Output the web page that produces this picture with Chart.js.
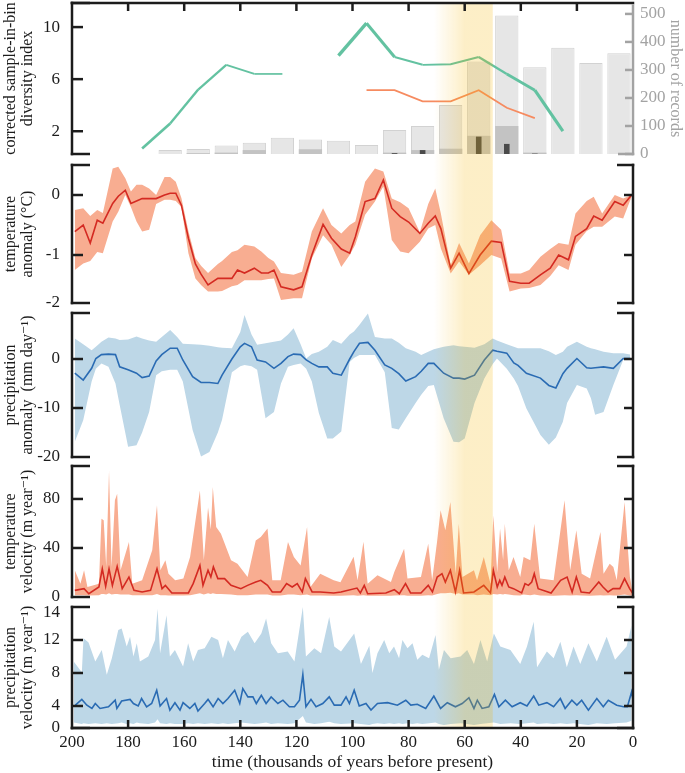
<!DOCTYPE html>
<html>
<head>
<meta charset="utf-8">
<script src="https://cdn.jsdelivr.net/npm/chart.js@4.4.1/dist/chart.umd.min.js"></script>
<style>
  html, body { margin: 0; padding: 0; background: #fff; }
  #wrap { position: relative; width: 685px; height: 773px; }
  canvas { position: absolute; left: 0; }
</style>
</head>
<body>
<div id="wrap">
  <canvas id="records" width="685" height="160" style="top:0px"></canvas>
  <canvas id="tempAnom" width="685" height="148" style="top:160px"></canvas>
  <canvas id="precAnom" width="685" height="154" style="top:308px"></canvas>
  <canvas id="tempVel" width="685" height="140" style="top:462px"></canvas>
  <canvas id="precVel" width="685" height="171" style="top:602px"></canvas>
</div>
<script>
// ---- data (time in thousands of years before present) ----
// top panel: 10 kyr bins
const binTimes = [165, 155, 145, 135, 125, 115, 105, 95, 85, 75, 65, 55, 45, 35, 25, 15, 5];
const recordsAll = [14, 18, 30, 40, 58, 52, 47, 32, 86, 100, 175, 330, 494, 310, 379, 325, 360];
const recordsMid = [0, 3, 5, 14, 0, 17, 0, 0, 5, 14, 19, 65, 100, 5, 0, 0, 0];
const recordsDark = [0, 0, 0, 0, 0, 0, 0, 0, 3, 14, 0, 62, 36, 1.5, 0, 0, 0];
const divTimes = [175, 165, 155, 145, 135, 125, 115, 105, 95, 85, 75, 65, 55, 45, 35, 25];
const divGreen = [0.67, 2.6, 5.2, 7.1, 6.4, 6.4, null, 7.8, 10.3, 7.7, 7.1, 7.15, 7.7, 6.4, 5.15, 2.0];
const divOrangeTimes = [95, 85, 75, 65, 55, 45, 35];
const divOrange = [5.15, 5.15, 4.3, 4.3, 5.15, 3.8, 3.0];

// temperature anomaly (deg C)
const tempTime = [199,196,193.5,191,189,185.5,183.5,181,179,177,175,172.5,170,167,165,163,161,158.5,156,154,151.5,148,146.5,143,141,138.5,135,132.5,130,128,125.5,121,118,114.5,110.5,107.5,104,101,99,95.5,92,89,86,83,80,76,73,70.5,68.5,65,62,58.5,54.5,50.5,47,44,40,37,33,29.5,26.5,23,20.5,16.5,14,11,6.5,3.5,0.5];
const tempMean = [-0.61,-0.5,-0.8,-0.42,-0.47,-0.14,-0.02,0.08,-0.14,-0.1,-0.06,-0.06,-0.06,0.0,0.03,0.03,-0.17,-0.72,-1.15,-1.32,-1.5,-1.39,-1.39,-1.39,-1.25,-1.3,-1.22,-1.3,-1.3,-1.25,-1.53,-1.58,-1.53,-1.0,-0.49,-0.72,-0.9,-0.97,-0.7,-0.11,-0.06,0.25,-0.22,-0.36,-0.45,-0.64,-0.47,-0.35,-0.56,-1.22,-0.97,-1.31,-1.0,-0.77,-0.79,-1.44,-1.47,-1.47,-1.33,-1.22,-1.0,-1.08,-0.69,-0.56,-0.35,-0.42,-0.11,-0.17,0.0];
const tempHi = [-0.25,-0.22,-0.35,-0.25,-0.3,0.44,0.47,0.28,0.06,0.17,0.17,0.11,0.0,0.3,0.3,0.22,-0.05,-0.6,-1.05,-1.18,-1.3,-1.15,-1.1,-0.95,-0.92,-0.83,-0.86,-0.94,-1.05,-1.11,-1.3,-1.33,-1.28,-0.61,-0.22,-0.5,-0.64,-0.5,-0.44,0.22,0.44,0.39,-0.06,-0.12,-0.22,-0.62,-0.15,0.11,-0.31,-1.17,-0.8,-1.14,-0.67,-0.42,-0.58,-1.31,-1.31,-1.25,-1.03,-0.9,-0.8,-0.83,-0.31,-0.1,-0.03,-0.31,0.0,-0.06,0.0];
const tempLo = [-1.25,-1.14,-1.1,-0.95,-0.97,-0.44,-0.28,0.0,-0.2,-0.44,-0.61,-0.58,-0.15,-0.08,-0.08,-0.1,-0.2,-0.97,-1.39,-1.5,-1.61,-1.61,-1.6,-1.52,-1.5,-1.42,-1.42,-1.42,-1.4,-1.39,-1.75,-1.72,-1.72,-1.06,-0.67,-0.83,-1.2,-1.0,-0.83,-0.33,-0.11,0.14,-0.75,-0.94,-0.97,-0.78,-0.56,-0.5,-0.89,-1.31,-1.11,-1.33,-1.17,-1.0,-1.06,-1.61,-1.56,-1.55,-1.5,-1.35,-1.17,-1.25,-0.83,-0.6,-0.53,-0.53,-0.36,-0.39,-0.03];

// precipitation anomaly (mm/day)
const precTime = [199,196,193,191.5,189.5,187,184.5,183,180,177,175,172.5,170,168,165,162.5,160.5,157,154,151,148,146.5,143,140,138.5,136,134,131,128,125.5,123,121,118.5,116.5,114.5,112,109,107,104,101,99.5,97.5,94.5,92,88.5,86,83.5,81,77.5,75.5,73,71,67.5,64,62,60,56.5,53,50,48.5,45,42.5,41,38,33,30,27.5,25,23.5,20,16.5,15,13.5,10.5,7,3.5,1];
const precMean = [-2.9,-4.3,-1.9,0.1,0.9,1.0,0.9,-1.6,-2.2,-2.9,-3.8,-3.5,-0.4,0.9,2.2,2.2,-0.2,-3.6,-4.8,-4.8,-5.0,-3.3,0.0,2.5,3.2,2.5,-0.2,-0.6,-1.9,-0.9,0.5,1.0,0.9,-0.2,-0.9,-1.6,-1.6,-2.9,-3.3,0.0,1.5,3.2,3.4,1.8,-1.2,-1.9,-3.0,-4.5,-3.6,-2.5,-0.9,-0.9,-2.9,-3.9,-3.9,-4.1,-3.3,-0.2,1.8,1.6,1.2,-0.8,-1.3,-2.9,-3.9,-5.4,-5.9,-3.0,-1.9,0.1,-1.8,-1.9,-1.8,-1.6,-1.9,0.1,0.1];
const precHi = [4.2,3.0,1.8,2.5,3.5,4.4,4.2,3.9,4.0,4.6,4.2,3.8,3.5,4.5,5.9,4.5,3.1,3.0,2.9,2.7,2.4,2.3,2.2,5.5,9.0,5.0,2.9,3.2,3.5,3.8,5.0,6.3,3.0,0.1,1.0,1.5,2.5,3.9,3.1,5.0,5.6,7.0,9.3,4.5,4.2,4.2,3.3,2.2,1.5,0.8,1.5,2.0,2.5,2.8,2.6,2.5,2.3,3.0,4.2,3.8,3.0,2.5,2.2,2.2,2.2,1.6,0.8,1.5,2.5,3.5,2.5,2.2,2.0,1.5,1.2,1.2,0.9];
const precLo = [-16.9,-12.5,-4.6,-2.0,-0.9,-1.6,-5.0,-9.4,-17.9,-17.6,-15.0,-10.8,-3.3,-2.5,-2.2,-2.2,-4.6,-14.5,-19.9,-19.0,-15.0,-12.4,-2.7,-1.5,-1.2,-1.5,-2.2,-12.1,-10.8,-5.0,-1.6,-1.2,-0.9,-2.0,-4.6,-11.0,-16.2,-16.2,-14.8,-0.6,0.2,0.8,0.8,0.8,-2.7,-14.1,-14.4,-12.1,-9.0,-7.3,-5.5,-5.3,-12.1,-16.9,-17.0,-16.2,-9.0,-4.0,-1.0,0.1,-2.0,-4.0,-5.5,-10.1,-15.5,-17.5,-16.0,-12.8,-9.0,-5.3,-6.0,-8.0,-11.4,-10.8,-5.3,-0.2,0.1];

// temperature velocity (m/year)
const tvBandTime = [199,197,195.7,194.5,190.4,189.5,188.7,187.8,186.8,185.9,184.7,183.9,182.7,179.7,178.5,175,171.4,169.7,168.5,166.7,165.6,163.2,160.3,157.9,154.4,153,151.5,150.5,149.8,148.6,146.9,143.3,141,137.4,134.5,132.7,130.3,128.6,125.6,123,120.9,118.5,116.2,115,111.5,106.7,104.3,99.6,98.2,96.1,94.6,91.1,86.3,85.1,81.6,80.4,75.6,73,71.6,69.8,68.6,66.9,65.1,63.2,62.1,60.8,56.7,55.6,53.2,50.8,49.8,48.4,47.4,46.3,45.7,44.3,42.6,40.2,39,36.6,35.2,33.1,28.3,24.4,22.4,20.2,18.3,15.3,11.6,10.5,8.3,7,5.8,3,1.1,0];
const tvHi = [21.8,10.9,21.8,8.2,10.9,63.9,62.6,24.5,103,24.5,78.9,84.3,21.8,44.9,10.9,13.6,38.1,74.8,21.8,29.9,19,13.6,15,32.6,87,30,73,55,89.8,57.1,51.7,29.9,27.2,16.3,46.2,49,55.8,13.6,13.6,44.9,32.6,25.8,57.1,8.2,19,13.6,12,32.9,13.6,45,10.9,17.7,12.2,20.4,39.4,15,16.3,43.5,13.6,46.2,70.7,54.4,77.5,19,59.8,16.3,21.8,13.6,32.6,10.9,66.6,20,55.8,29.9,59.8,21.8,32.6,16.3,32.6,29.9,59.8,15,13.6,79,21.8,54.4,19,15,53.1,19,27.2,24.5,13.6,77.5,16.3,2];
const tvLo = [1.5,1.5,1.5,1.2,1.5,2.5,2.5,2,3,2,2.5,2.5,2,2,1.5,1.5,1.5,2.5,1.5,1.5,1.2,1.2,1.2,1.5,3,2,3,2.5,3,2.5,2.5,2,1.5,1.5,2,2,2,1.2,1.2,2,2,1.5,2,1.2,1.2,1,1,1.5,1,1.5,1,1,1,1.2,1.5,1,1,1.5,1.2,2.5,3,3,3.5,2.5,3,2,2,1.5,2,1.5,2.5,2,2.5,2,2.5,2,1.5,1.2,2,1.5,2,1.2,1,1.5,1.2,1.5,1.2,1,1.5,1.2,1.5,1.2,1.2,2,1.2,1];
const tvMeanTime = [199,195.7,194,190.4,189.2,188,186.8,185.6,183.9,182.1,179.7,177.9,175,172,169.7,167.9,166.7,164.4,158.5,156.8,154.4,153.3,151.5,150.5,149.6,148,145.6,143.3,139.8,137.4,134.5,132.7,130.3,128.6,125.6,123.5,121.5,119.7,117.9,116.8,114.4,111.5,106.7,104.1,98.4,97.2,95.8,94.6,88.1,85.1,83.3,81.1,79.3,75.6,73,71.5,69.8,68.1,66.9,65.1,63.3,61.8,60.4,56.7,53.2,50.8,49.8,48.4,47.5,46.7,45.7,44.3,42.6,39.7,38.5,37.3,36.1,35.2,33.8,29.2,25.8,23.5,21.7,20.2,18.5,15.5,12.2,10.7,8.9,7.1,4.7,3,1.2,0];
const tvMean = [5.4,6.8,2.7,8.2,23,8.7,23,9.5,25,6.8,16.3,5.4,4.1,5.4,23,6.8,9.5,3.3,3.3,10.9,25.8,9.5,21.8,16.3,24.5,15,15,9.5,6.8,9.5,12.2,13.6,9.5,4.1,4.1,10.9,8.2,10.9,4.1,15,4.1,4.1,3.3,4.1,7.3,3.3,9.5,2.7,3.3,6,2.7,10.9,3.3,3.3,9.5,4.1,16.3,19,12.2,21.8,4.1,21.8,3.3,4.1,9.5,3.3,21.8,8.2,13.6,9.5,16.3,8.2,6.8,3.3,10.9,9.5,12.2,19,6.8,3.3,13.6,16.3,4.1,16.3,4.1,3.3,12.2,8.2,4.1,6.8,6.8,15,6.8,2.7];

// precipitation velocity (m/year)
const pvBandTime = [199.4,196.5,195.9,194.1,191.7,189.4,187.6,185.8,183.5,182.3,180.5,179.3,178.1,176.9,175.8,172.8,170.4,169.5,168.6,166.3,165.1,163.3,160.4,158.6,156.8,155.1,152.7,150.3,147.9,146.2,144.4,142,139.6,137.3,134.9,132.5,130.8,129,126.6,123.1,120.7,117.7,116.6,113.6,111.2,108.3,106.5,104.1,99.4,97,94,92.9,91.1,88.7,86.9,85.2,83.4,82.2,80.4,78.6,76.9,75.1,72.7,70.4,69.2,67.4,65,61.5,59.1,56.7,54.4,52,49.6,47.3,43.7,40.2,37.8,35.4,34.2,30.7,28.3,25.9,23.6,21.2,18.8,15.9,12.9,9.4,6.4,2.3,0.5];
const pvHi = [9.4,8.1,12.2,11.7,9.4,10.8,7.8,9.8,13.2,13.4,11.2,12.4,10,11.6,9.4,10,12,15.8,10.4,15,10,10.8,8.8,11.6,9.4,10.8,11,12.4,12,9.8,12,10.6,12.4,13,11.6,12.8,14.6,11.6,10.4,10.6,9.4,16,10,11,10.4,14.8,11.2,10.6,12.8,9.1,11.3,8,10.4,12,10.4,11.2,9.8,12,11,11.6,9.6,10.2,9.8,12.6,8.4,10.8,9.8,10,10.8,9.1,12,9.4,12.8,11.2,10.8,9.1,11.2,14.2,8.7,10.6,9.8,11.8,8.7,11.2,9.1,11.6,9.4,12.4,9.6,11.2,13.8];
const pvLo = [2.0,1.8,1.9,1.8,1.9,1.8,1.9,1.8,1.9,2.0,1.8,1.9,1.8,2.0,1.9,1.8,2.0,2.4,1.9,1.8,1.9,1.8,1.8,1.9,1.8,1.9,1.8,1.9,1.8,1.9,1.8,1.9,2.0,1.9,1.8,1.9,2.0,1.8,1.9,1.8,1.9,2.8,2.0,1.8,1.9,2.1,1.9,1.8,1.9,1.8,1.7,1.8,1.9,1.8,1.9,1.8,1.9,1.8,1.9,1.8,1.9,1.8,1.9,2.0,1.8,1.7,1.8,1.9,1.8,1.7,1.8,1.9,2.0,1.8,1.9,1.8,1.9,2.0,1.8,1.9,1.8,1.9,1.8,1.9,1.8,1.7,1.9,1.8,1.9,2.0,2.2];
const pvMeanTime = [198.8,196.5,194.7,192.9,191.7,190,187,184.6,184,182.3,179.3,178.1,176.4,175.2,173.4,171.6,169.8,168.6,166.3,165.1,163.3,161.5,160.4,158,156.2,155.1,152.7,151.5,149.7,147.9,146.2,144.4,142,140.2,139.1,137.3,135.5,134.3,132.5,130.8,129,126.6,124.8,122.5,120.7,118.9,117.7,116.6,114.8,113,110.6,108.3,106.5,104.1,102.3,101.1,99.4,97.6,95.2,93.4,91.1,87.5,84,81,79.2,76.9,73.9,71,68.6,66.2,63.3,60.9,58.5,56.7,55.5,53.8,51.4,49.4,47.8,45.5,43.1,40.2,37.8,35.4,33.6,30.7,28.3,25.9,24.2,21.8,20,18.3,15.9,12.9,10.6,8.8,5.8,3.4,2,0.5,0];
const pvMean = [4.1,4.8,4.1,3.7,4.3,3.7,3.9,4.7,3.7,4.6,4.8,4.3,4,4.9,3.9,4.3,5.9,4,4.9,3.5,4.4,3.5,4.4,3.7,4.3,3.4,4.3,4.8,3.9,4.9,4.3,4.9,5.9,4.3,6.1,5.1,5.1,4.3,5.3,4.3,5.1,4.3,4.7,3.9,3.9,4.7,7.8,3.9,4.8,3.9,4.3,5.1,4.1,4.1,5.1,4.3,5.9,4,4.3,3.5,4.3,4.4,4.1,4.7,4.1,4.2,3.7,5.2,3.7,4.4,3.9,4.3,5,3.7,4.7,3.7,3.9,5.4,3.9,4.7,3.9,4.4,4,5.2,4.1,4.4,3.9,4.9,3.7,4.7,4.1,4.7,3.5,4.9,3.9,4.7,4.1,3.9,3.9,5.7,4.7];

// highlighted interval (kyr BP): fades in from the first value, solid from the second, ends at the third
const highlight = [71, 60, 50];

// tick labels
const diversityTicks = [2, 6, 10];
const recordTicks = [0, 100, 200, 300, 400, 500];
const tempAnomTicks = [0, -1, -1.8];
const tempAnomLabels = ['0', '-1', '-2'];
const precAnomTicks = [0, -10, -20];
const tempVelTicks = [0, 40, 80];
const precVelTicks = [1.33, 4, 8, 12, 15.3];
const precVelLabels = ['0', '4', '8', '12', '14'];

// ---- styling ----
const INK = '#1c1c1c';
const GREY = '#a3a3a3';
const SALMON = '#f8ad91';
const RED = '#d42a22';
const SKY = '#bdd7e7';
const BLUE = '#2a6bb3';
Chart.defaults.font.family = '"Liberation Serif", "DejaVu Serif", serif';
Chart.defaults.color = INK;

const pts = (xs, ys) => xs.map((t, i) => ({ x: t, y: ys[i] }));
const noPad = s => { s.paddingTop = 0; s.paddingBottom = 0; };

const highlightPlugin = {
  id: 'highlightBand',
  afterDatasetsDraw(chart, args, o) {
    const { ctx, chartArea: a, scales: { x } } = chart;
    const x0 = x.getPixelForValue(highlight[0]);
    const x1 = x.getPixelForValue(highlight[1]);
    const x2 = x.getPixelForValue(highlight[2]);
    const top = o.fromArea ? a.top : 0;
    const bottom = o.toArea ? a.bottom : chart.height;
    const g = ctx.createLinearGradient(x0, 0, x2, 0);
    g.addColorStop(0, 'rgba(245,180,0,0)');
    g.addColorStop((x1 - x0) / (x2 - x0), 'rgba(245,180,0,0.22)');
    g.addColorStop(1, 'rgba(245,180,0,0.22)');
    ctx.save();
    ctx.fillStyle = g;
    ctx.fillRect(x0, top, x2 - x0, bottom - top);
    ctx.restore();
  }
};

// bracket-style axes, drawn on top
const framePlugin = {
  id: 'frame',
  afterDraw(chart, args, o) {
    const { ctx, chartArea: a, scales } = chart;
    const y = scales.y, x = scales.x;
    const h = 1.25;
    const seg = (x1, y1, x2, y2) => { ctx.beginPath(); ctx.moveTo(x1, y1); ctx.lineTo(x2, y2); ctx.stroke(); };
    ctx.save();
    ctx.lineWidth = 2.5;
    ctx.strokeStyle = INK;
    seg(a.left, a.top - h, a.left, a.bottom + h);
    seg(a.left - h, a.top, a.left + 18, a.top);
    seg(a.left - h, a.bottom, a.left + 18, a.bottom);
    o.ticks.forEach(v => { const p = y.getPixelForValue(v); seg(a.left, p, a.left + 11, p); });
    const inner = x.ticks.map(t => t.value).filter(v => v > 0 && v < 200);
    if (o.topAxis) {
      seg(a.left - h, a.top, a.right + h, a.top);
      inner.forEach(v => { const p = x.getPixelForValue(v); seg(p, a.top, p, a.top + 8); });
    }
    if (o.bottomAxis) {
      seg(a.left - h, a.bottom, a.right + h, a.bottom);
      inner.forEach(v => { const p = x.getPixelForValue(v); seg(p, a.bottom, p, a.bottom - 8); });
    }
    if (o.rightBracket) {
      seg(a.right, a.top - h, a.right, a.bottom + h);
      seg(a.right + h, a.top, a.right - 16, a.top);
      seg(a.right + h, a.bottom, a.right - 16, a.bottom);
      o.ticks.forEach(v => { const p = y.getPixelForValue(v); seg(a.right, p, a.right - 9, p); });
    }
    if (o.greyRight) {
      const y2 = scales.y2;
      ctx.strokeStyle = GREY;
      seg(a.right, a.top + h, a.right, a.bottom + h);
      seg(a.right + h, a.bottom, a.right - 15, a.bottom);
      recordTicks.forEach(v => { const p = y2.getPixelForValue(v); seg(a.right, p, a.right - 8, p); });
    }
    ctx.restore();
  }
};

function xScale(show) {
  const s = {
    type: 'linear', min: 0, max: 200, reverse: true, offset: false, display: show,
    grid: { display: false, drawTicks: false }, border: { display: false },
    ticks: { stepSize: 20, padding: 4, font: { size: 17 }, color: INK, maxRotation: 0, autoSkip: false }
  };
  if (show) {
    s.title = { display: true, text: 'time (thousands of years before present)', font: { size: 17.5 }, color: INK, padding: { top: 0, bottom: 0 } };
    s.afterFit = sc => { sc.height = 45; sc.paddingLeft = 0; sc.paddingRight = 0; };
  }
  return s;
}

function yScale(min, max, values, labels, title) {
  return {
    position: 'left', min: min, max: max,
    grid: { display: false, drawTicks: false }, border: { display: false },
    afterBuildTicks: s => { s.ticks = values.map(v => ({ value: v })); },
    ticks: { padding: 12, font: { size: 17 }, color: INK, autoSkip: false, callback: (v, i) => labels[i] },
    title: { display: true, text: title, font: { size: 16, lineHeight: 1.08 }, color: INK, padding: { top: 2, bottom: 0 } },
    afterFit: s => { s.width = 72; noPad(s); }
  };
}

function baseOptions(pad, scales, frame, band) {
  return {
    responsive: false, animation: false, devicePixelRatio: 1, events: [],
    layout: { padding: pad },
    scales: scales,
    plugins: { legend: { display: false }, tooltip: { enabled: false }, frame: frame, highlightBand: band }
  };
}

function bandSets(times, mean, meanTimes, hi, lo, fillColor, lineColor) {
  return [
    { type: 'line', data: pts(meanTimes, mean), borderColor: lineColor, borderWidth: 1.6, pointRadius: 0, fill: false, order: 0 },
    { type: 'line', data: pts(times, hi), borderColor: 'transparent', borderWidth: 0, pointRadius: 0, fill: '+1', backgroundColor: fillColor, order: 1 },
    { type: 'line', data: pts(times, lo), borderColor: 'transparent', borderWidth: 0, pointRadius: 0, fill: false, order: 1 }
  ];
}

// ---- panel 1: records and diversity ----
const greenSegWidth = [2.6, 2.4, 2.2, 1.8, 1.7, 1.7, 1.7, 3.4, 3.0, 2.0, 1.9, 1.9, 2.3, 2.8, 3.2];
new Chart(document.getElementById('records'), {
  data: {
    datasets: [
      { type: 'line', data: pts(divTimes, divGreen), yAxisID: 'y', borderColor: '#63c2a1', borderWidth: 2,
        segment: { borderWidth: c => greenSegWidth[c.p0DataIndex] }, spanGaps: false, pointRadius: 0, order: 0 },
      { type: 'line', data: pts(divOrangeTimes, divOrange), yAxisID: 'y', borderColor: '#f68b60', borderWidth: 1.8, pointRadius: 0, order: 0 },
      { type: 'bar', data: pts(binTimes, recordsDark), yAxisID: 'y2', backgroundColor: '#4a4a4a', grouped: false,
        categoryPercentage: 1, barPercentage: 0.2, order: 1 },
      { type: 'bar', data: pts(binTimes, recordsMid), yAxisID: 'y2', backgroundColor: '#c3c3c3', grouped: false,
        categoryPercentage: 1, barPercentage: 0.83, order: 2 },
      { type: 'bar', data: pts(binTimes, recordsAll), yAxisID: 'y2', backgroundColor: '#e6e6e6', borderColor: '#d2d2d2',
        borderWidth: 1, grouped: false, categoryPercentage: 1, barPercentage: 0.83, order: 3 }
    ]
  },
  options: baseOptions({ top: 3, bottom: 6, left: 0, right: 0 }, {
    x: xScale(false),
    y: yScale(0.25, 11.85, diversityTicks, diversityTicks.map(String), ['corrected sample-in-bin', 'diversity index']),
    y2: {
      position: 'right', min: 0, max: 539,
      grid: { display: false, drawTicks: false }, border: { display: false },
      afterBuildTicks: s => { s.ticks = recordTicks.map(v => ({ value: v })); },
      ticks: { padding: 7, font: { size: 17 }, color: GREY, autoSkip: false },
      title: { display: true, text: 'number of records', font: { size: 16 }, color: GREY, padding: { top: 0, bottom: 0 } },
      afterFit: s => { s.width = 52; noPad(s); }
    }
  }, { ticks: diversityTicks, topAxis: true, greyRight: true }, { fromArea: true }),
  plugins: [highlightPlugin, framePlugin]
});

// ---- panel 2: temperature anomaly ----
new Chart(document.getElementById('tempAnom'), {
  data: { datasets: bandSets(tempTime, tempMean, tempTime, tempHi, tempLo, SALMON, RED) },
  options: baseOptions({ top: 5, bottom: 5, left: 0, right: 52 }, {
    x: xScale(false),
    y: yScale(-1.8, 0.5, tempAnomTicks, tempAnomLabels, ['temperature', 'anomaly (°C)'])
  }, { ticks: [0, -1], rightBracket: true }, {}),
  plugins: [highlightPlugin, framePlugin]
});

// ---- panel 3: precipitation anomaly ----
new Chart(document.getElementById('precAnom'), {
  data: { datasets: bandSets(precTime, precMean, precTime, precHi, precLo, SKY, BLUE) },
  options: baseOptions({ top: 5, bottom: 5, left: 0, right: 52 }, {
    x: xScale(false),
    y: yScale(-20, 9.39, precAnomTicks, precAnomTicks.map(String), ['precipitation', 'anomaly  (mm day\u207B\u00B9)'])
  }, { ticks: [0, -10], rightBracket: true }, {}),
  plugins: [highlightPlugin, framePlugin]
});

// ---- panel 4: temperature velocity ----
new Chart(document.getElementById('tempVel'), {
  data: { datasets: bandSets(tvBandTime, tvMean, tvMeanTime, tvHi, tvLo, SALMON, RED) },
  options: baseOptions({ top: 4, bottom: 5, left: 0, right: 52 }, {
    x: xScale(false),
    y: yScale(0, 106.9, tempVelTicks, tempVelTicks.map(String), ['temperature', 'velocity (m year\u207B\u00B9)'])
  }, { ticks: [40, 80], rightBracket: true }, {}),
  plugins: [highlightPlugin, framePlugin]
});

// ---- panel 5: precipitation velocity ----
new Chart(document.getElementById('precVel'), {
  data: { datasets: bandSets(pvBandTime, pvMean, pvMeanTime, pvHi, pvLo, SKY, BLUE) },
  options: baseOptions({ top: 5, bottom: 0, left: 0, right: 52 }, {
    x: xScale(true),
    y: yScale(1.33, 16, precVelTicks, precVelLabels, ['precipitation', 'velocity (m year\u207B\u00B9)'])
  }, { ticks: [4, 8, 12], rightBracket: true, bottomAxis: true }, { toArea: true }),
  plugins: [highlightPlugin, framePlugin]
});
</script>
</body>
</html>
